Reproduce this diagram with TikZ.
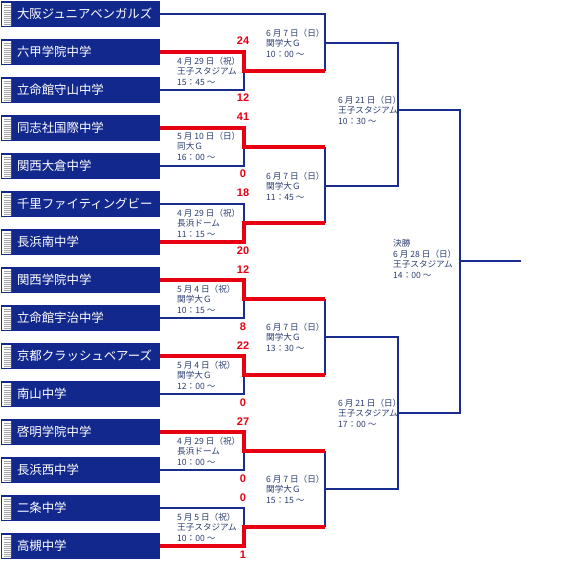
\documentclass[tikz,border=0pt]{standalone}
\usepackage{fontspec}
\newfontfamily\jpfont{Noto Sans CJK JP}
\newfontfamily\scorefont{Liberation Sans}
\usepackage{tikz}
\usetikzlibrary{positioning}
\definecolor{navy}{HTML}{13288C}
\definecolor{lineblue}{HTML}{1A2C8E}
\definecolor{winred}{HTML}{E60012}
\definecolor{infotext}{HTML}{2A3D72}

\begin{document}
\begin{tikzpicture}[
x=1pt, y=-1pt,
node distance=12pt,
teambox/.style={fill=navy, anchor=west, minimum width=159pt, minimum height=26pt,
  outer sep=0pt, inner xsep=2pt, inner ysep=0pt, text width=155pt, align=left, text=white,
  font=\jpfont\fontsize{12.4}{14}\selectfont,
  path picture={
    \shade[left color=white, right color=gray!55]
      ([xshift=1pt,yshift=-2pt]path picture bounding box.north west) rectangle
      ([xshift=10pt,yshift=2pt]path picture bounding box.south west);
    \foreach \k in {1,...,10}
      \draw[gray!70, line width=0.6pt]
        ([xshift=3pt,yshift={-(2.5+2.1*\k)*1pt}]path picture bounding box.north west) -- ++(7pt,0pt);
  }},
matchinfo/.style={anchor=west, align=left, inner sep=0pt, text=infotext,
  font=\jpfont\fontsize{8.6}{10.6}\selectfont},
score/.style={inner sep=0pt, text=winred, font=\scorefont\bfseries\fontsize{11}{12}\selectfont},
loseline/.style={draw=lineblue, line width=2.4pt},
winline/.style={draw=winred, line width=3.6pt, line join=miter}
]
\useasboundingbox (0,0) rectangle (572,562);

% teams
\node[teambox] (t1) at (1,14) {\hspace*{14pt}大阪ジュニアベンガルズ};
\node[teambox, below=of t1] (t2) {\hspace*{14pt}六甲学院中学};
\node[teambox, below=of t2] (t3) {\hspace*{14pt}立命館守山中学};
\node[teambox, below=of t3] (t4) {\hspace*{14pt}同志社国際中学};
\node[teambox, below=of t4] (t5) {\hspace*{14pt}関西大倉中学};
\node[teambox, below=of t5] (t6) {\hspace*{14pt}千里ファイティングビー};
\node[teambox, below=of t6] (t7) {\hspace*{14pt}長浜南中学};
\node[teambox, below=of t7] (t8) {\hspace*{14pt}関西学院中学};
\node[teambox, below=of t8] (t9) {\hspace*{14pt}立命館宇治中学};
\node[teambox, below=of t9] (t10) {\hspace*{14pt}京都クラッシュベアーズ};
\node[teambox, below=of t10] (t11) {\hspace*{14pt}南山中学};
\node[teambox, below=of t11] (t12) {\hspace*{14pt}啓明学院中学};
\node[teambox, below=of t12] (t13) {\hspace*{14pt}長浜西中学};
\node[teambox, below=of t13] (t14) {\hspace*{14pt}二条中学};
\node[teambox, below=of t14] (t15) {\hspace*{14pt}高槻中学};

% junctions
\coordinate (jA) at (244,71);  \coordinate (kA) at (325,71);
\coordinate (jB) at (244,147); \coordinate (kB) at (325,147);
\coordinate (jC) at (244,223); \coordinate (kC) at (325,223);
\coordinate (jD) at (244,299); \coordinate (kD) at (325,299);
\coordinate (jE) at (244,375); \coordinate (kE) at (325,375);
\coordinate (jF) at (244,451); \coordinate (kF) at (325,451);
\coordinate (jG) at (244,527); \coordinate (kG) at (325,527);
\coordinate (q1) at (325,43);  \coordinate (p1) at (398,43);
\coordinate (q2) at (325,186); \coordinate (p2) at (398,186);
\coordinate (q3) at (325,337); \coordinate (p3) at (398,337);
\coordinate (q4) at (325,489); \coordinate (p4) at (398,489);
\coordinate (s1) at (398,110); \coordinate (f1) at (460,110);
\coordinate (s2) at (398,413); \coordinate (f2) at (460,413);
\coordinate (fin) at (460,261); \coordinate (champ) at (521,261);

% losers and open games
\draw[loseline] (t3.east) -| (jA);
\draw[loseline] (t5.east) -| (jB);
\draw[loseline] (t6.east) -| (jC);
\draw[loseline] (t9.east) -| (jD);
\draw[loseline] (t11.east) -| (jE);
\draw[loseline] (t13.east) -| (jF);
\draw[loseline] (t14.east) -| (jG);
\draw[loseline] (t1.east) -| (kA);
\draw[loseline] (kB) -- (kC);
\draw[loseline] (kD) -- (kE);
\draw[loseline] (kF) -- (kG);
\draw[loseline] (q1) -- (p1) -- (p2) -- (q2);
\draw[loseline] (q3) -- (p3) -- (p4) -- (q4);
\draw[loseline] (s1) -- (f1) -- (f2) -- (s2);
\draw[loseline] (fin) -- (champ);

% winners
\draw[winline] (t2.east) -| (jA) -- (kA);
\draw[winline] (t4.east) -| (jB) -- (kB);
\draw[winline] (t7.east) -| (jC) -- (kC);
\draw[winline] (t8.east) -| (jD) -- (kD);
\draw[winline] (t10.east) -| (jE) -- (kE);
\draw[winline] (t12.east) -| (jF) -- (kF);
\draw[winline] (t15.east) -| (jG) -- (kG);

% scores
\node[score] (a1) at (243,41) {24};
\node[score] (a2) at (243,98) {12};
\node[score] (b1) at (243,117) {41};
\node[score] (b2) at (243,174) {0};
\node[score] (c1) at (243,193) {18};
\node[score] (c2) at (243,251) {20};
\node[score] (d1) at (243,270) {12};
\node[score] (d2) at (243,327) {8};
\node[score] (e1) at (243,346) {22};
\node[score] (e2) at (243,403) {0};
\node[score] (f1s) at (243,422) {27};
\node[score] (f2s) at (243,479) {0};
\node[score] (g1) at (243,498) {0};
\node[score] (g2) at (243,555) {1};

% game info
\node[matchinfo] (mA) at (177,71) {4 月 29 日（祝）\\王子スタジアム\\15：45 ～};
\node[matchinfo] (mB) at (177,146) {5 月 10 日（日）\\同大Ｇ\\16：00 ～};
\node[matchinfo] (mC) at (177,223) {4 月 29 日（祝）\\長浜ドーム\\11：15 ～};
\node[matchinfo] (mD) at (177,299) {5 月 4 日（祝）\\関学大Ｇ\\10：15 ～};
\node[matchinfo] (mE) at (177,375) {5 月 4 日（祝）\\関学大Ｇ\\12：00 ～};
\node[matchinfo] (mF) at (177,451) {4 月 29 日（祝）\\長浜ドーム\\10：00 ～};
\node[matchinfo] (mG) at (177,527) {5 月 5 日（祝）\\王子スタジアム\\10：00 ～};
\node[matchinfo] (mQ1) at (266,43) {6 月 7 日（日）\\関学大Ｇ\\10：00 ～};
\node[matchinfo] (mQ2) at (266,186) {6 月 7 日（日）\\関学大Ｇ\\11：45 ～};
\node[matchinfo] (mQ3) at (266,337) {6 月 7 日（日）\\関学大Ｇ\\13：30 ～};
\node[matchinfo] (mQ4) at (266,489) {6 月 7 日（日）\\関学大Ｇ\\15：15 ～};
\node[matchinfo] (mS1) at (338,110) {6 月 21 日（日）\\王子スタジアム\\10：30 ～};
\node[matchinfo] (mS2) at (338,413) {6 月 21 日（日）\\王子スタジアム\\17：00 ～};
\node[matchinfo] (mFin) at (393,259) {決勝\\6 月 28 日（日）\\王子スタジアム\\14：00 ～};
\end{tikzpicture}
\end{document}
